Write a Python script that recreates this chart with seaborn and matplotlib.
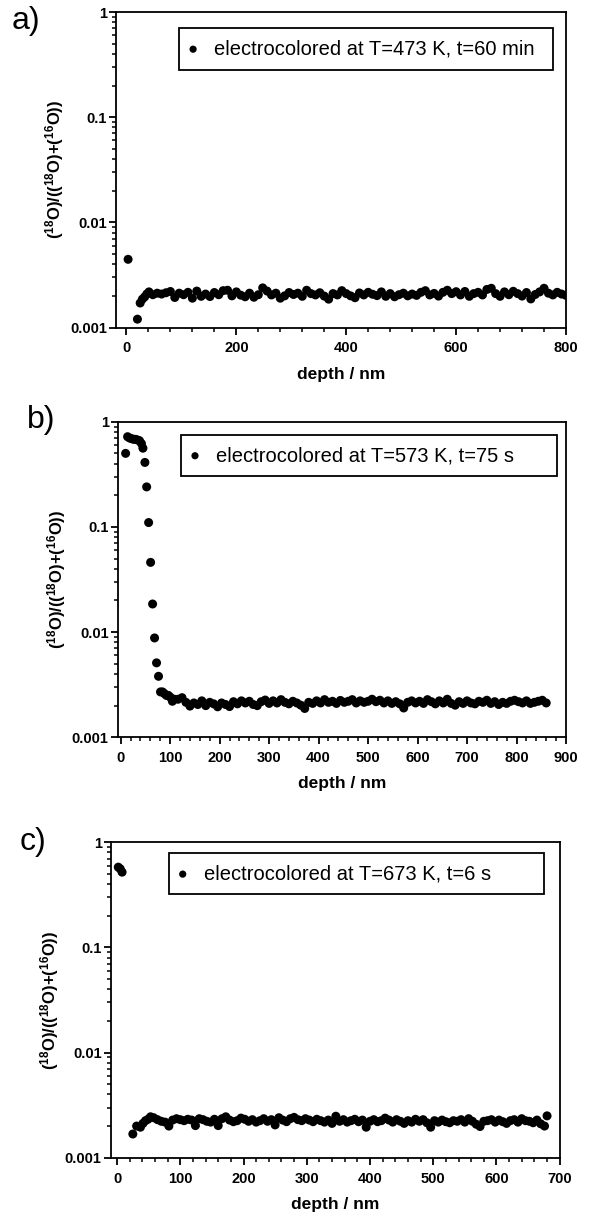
import matplotlib
matplotlib.use("Agg")
import matplotlib.pyplot as plt
import seaborn as sns
import pandas as pd
from matplotlib.ticker import (FixedLocator, FixedFormatter, MultipleLocator,
                               LogLocator, NullFormatter)

# ---------------- data ----------------
depth_a = [3, 20, 25, 29, 33, 37, 41,
           48, 56, 64, 72, 80, 88, 96, 104, 112, 120, 128, 136, 144, 152, 160, 168,
           176, 184, 192, 200, 208, 216, 224, 232, 240, 248, 256, 264, 272, 280, 288,
           296, 304, 312, 320, 328, 336, 344, 352, 360, 368, 376, 384, 392, 400, 408,
           416, 424, 432, 440, 448, 456, 464, 472, 480, 488, 496, 504, 512, 520, 528,
           536, 544, 552, 560, 568, 576, 584, 592, 600, 608, 616, 624, 632, 640, 648,
           656, 664, 672, 680, 688, 696, 704, 712, 720, 728, 736, 744, 752, 760, 768,
           776, 784, 792, 800]
ratio_a = [4.45e-3, 1.20e-3, 1.71e-3, 1.86e-3, 1.95e-3, 2.08e-3, 2.18e-3,
           2.05e-3, 2.12e-3, 2.08e-3, 2.14e-3, 2.20e-3, 1.93e-3, 2.12e-3, 2.05e-3, 2.16e-3,
           1.90e-3, 2.22e-3, 1.98e-3, 2.08e-3, 1.97e-3, 2.15e-3, 2.05e-3, 2.24e-3, 2.26e-3,
           2.00e-3, 2.18e-3, 2.03e-3, 1.96e-3, 2.12e-3, 1.94e-3, 2.05e-3, 2.38e-3, 2.22e-3,
           2.04e-3, 2.12e-3, 1.90e-3, 2.00e-3, 2.15e-3, 2.06e-3, 2.12e-3, 1.98e-3, 2.26e-3,
           2.10e-3, 2.04e-3, 2.14e-3, 1.99e-3, 1.86e-3, 2.10e-3, 2.04e-3, 2.24e-3, 2.10e-3,
           2.00e-3, 1.92e-3, 2.13e-3, 2.04e-3, 2.16e-3, 2.07e-3, 2.01e-3, 2.18e-3, 1.98e-3,
           2.10e-3, 1.96e-3, 2.05e-3, 2.12e-3, 2.00e-3, 2.08e-3, 2.02e-3, 2.16e-3, 2.24e-3,
           2.04e-3, 2.11e-3, 1.99e-3, 2.16e-3, 2.26e-3, 2.10e-3, 2.19e-3, 2.04e-3, 2.20e-3,
           1.98e-3, 2.10e-3, 2.16e-3, 2.04e-3, 2.30e-3, 2.36e-3, 2.10e-3, 1.98e-3, 2.18e-3,
           2.05e-3, 2.21e-3, 2.10e-3, 1.99e-3, 2.15e-3, 1.87e-3, 2.06e-3, 2.18e-3, 2.36e-3,
           2.12e-3, 2.04e-3, 2.16e-3, 2.08e-3, 2.02e-3]

depth_b = [10, 14, 18, 22, 26, 30, 34, 38, 42, 45, 49, 52.5, 56.5, 60.5, 64.5, 68.5,
           72.5, 76.5, 80.5, 84.5, 88.5, 92.5, 96.5, 100.5, 104.5, 108.5,
           116, 124, 132, 140, 148, 156, 164, 172, 180, 188, 196, 204, 212, 220, 228,
           236, 244, 252, 260, 268, 276, 284, 292, 300, 308, 316, 324, 332, 340, 348,
           356, 364, 372, 380, 388, 396, 404, 412, 420, 428, 436, 444, 452, 460, 468,
           476, 484, 492, 500, 508, 516, 524, 532, 540, 548, 556, 564, 572, 580, 588,
           596, 604, 612, 620, 628, 636, 644, 652, 660, 668, 676, 684, 692, 700, 708,
           716, 724, 732, 740, 748, 756, 764, 772, 780, 788, 796, 804, 812, 820, 828,
           836, 844, 852, 860]
ratio_b = [0.50, 0.72, 0.70, 0.69, 0.68, 0.68, 0.67, 0.66, 0.62, 0.56, 0.41, 0.24,
           0.11, 0.046, 0.0185, 0.0088, 0.0051, 0.0038, 0.0027, 0.0027, 0.0026, 0.0025,
           0.0025, 0.0024, 0.0022, 0.0023,
           2.30e-3, 2.38e-3, 2.15e-3, 1.98e-3, 2.12e-3, 2.05e-3, 2.22e-3, 2.00e-3, 2.15e-3,
           2.08e-3, 1.95e-3, 2.12e-3, 2.05e-3, 1.96e-3, 2.18e-3, 2.08e-3, 2.22e-3, 2.12e-3,
           2.20e-3, 2.05e-3, 2.00e-3, 2.18e-3, 2.26e-3, 2.10e-3, 2.22e-3, 2.12e-3, 2.28e-3,
           2.15e-3, 2.08e-3, 2.20e-3, 2.12e-3, 2.02e-3, 1.88e-3, 2.15e-3, 2.10e-3, 2.22e-3,
           2.12e-3, 2.28e-3, 2.15e-3, 2.20e-3, 2.10e-3, 2.24e-3, 2.15e-3, 2.20e-3, 2.28e-3,
           2.12e-3, 2.22e-3, 2.15e-3, 2.20e-3, 2.30e-3, 2.18e-3, 2.25e-3, 2.12e-3, 2.22e-3,
           2.10e-3, 2.18e-3, 2.08e-3, 1.90e-3, 2.15e-3, 2.22e-3, 2.12e-3, 2.20e-3, 2.10e-3,
           2.28e-3, 2.18e-3, 2.08e-3, 2.22e-3, 2.12e-3, 2.30e-3, 2.10e-3, 2.02e-3, 2.18e-3,
           2.10e-3, 2.22e-3, 2.12e-3, 2.08e-3, 2.20e-3, 2.15e-3, 2.25e-3, 2.10e-3, 2.18e-3,
           2.05e-3, 2.15e-3, 2.10e-3, 2.20e-3, 2.25e-3, 2.18e-3, 2.12e-3, 2.22e-3, 2.10e-3,
           2.15e-3, 2.20e-3, 2.25e-3, 2.12e-3]

depth_c = [2, 5, 8, 25, 31, 37, 41, 45, 49, 53,
           58, 64, 70, 76, 82, 88, 94, 100, 106, 112, 118, 124, 130, 136, 142, 148, 154,
           160, 166, 172, 178, 184, 190, 196, 202, 208, 214, 220, 226, 232, 238, 244, 250,
           256, 262, 268, 274, 280, 286, 292, 298, 304, 310, 316, 322, 328, 334, 340, 346,
           352, 358, 364, 370, 376, 382, 388, 394, 400, 406, 412, 418, 424, 430, 436, 442,
           448, 454, 460, 466, 472, 478, 484, 490, 496, 502, 508, 514, 520, 526, 532, 538,
           544, 550, 556, 562, 568, 574, 580, 586, 592, 598, 604, 610, 616, 622, 628, 634,
           640, 646, 652, 658, 664, 670, 676, 680]
ratio_c = [0.58, 0.56, 0.52, 1.68e-3, 2.00e-3, 1.95e-3, 2.12e-3, 2.25e-3, 2.32e-3, 2.45e-3,
           2.40e-3, 2.30e-3, 2.22e-3, 2.18e-3, 2.00e-3, 2.28e-3, 2.35e-3, 2.30e-3, 2.25e-3,
           2.32e-3, 2.28e-3, 2.02e-3, 2.35e-3, 2.30e-3, 2.22e-3, 2.18e-3, 2.32e-3, 2.02e-3,
           2.35e-3, 2.45e-3, 2.28e-3, 2.20e-3, 2.25e-3, 2.38e-3, 2.32e-3, 2.22e-3, 2.30e-3,
           2.18e-3, 2.25e-3, 2.35e-3, 2.22e-3, 2.30e-3, 2.05e-3, 2.40e-3, 2.28e-3, 2.20e-3,
           2.35e-3, 2.42e-3, 2.30e-3, 2.25e-3, 2.35e-3, 2.28e-3, 2.20e-3, 2.32e-3, 2.25e-3,
           2.18e-3, 2.28e-3, 2.12e-3, 2.48e-3, 2.22e-3, 2.30e-3, 2.18e-3, 2.25e-3, 2.32e-3,
           2.20e-3, 2.28e-3, 1.95e-3, 2.22e-3, 2.30e-3, 2.20e-3, 2.25e-3, 2.38e-3, 2.28e-3,
           2.18e-3, 2.30e-3, 2.22e-3, 2.12e-3, 2.25e-3, 2.18e-3, 2.32e-3, 2.22e-3, 2.30e-3,
           2.15e-3, 1.95e-3, 2.25e-3, 2.18e-3, 2.28e-3, 2.20e-3, 2.15e-3, 2.25e-3, 2.22e-3,
           2.30e-3, 2.18e-3, 2.35e-3, 2.22e-3, 2.08e-3, 1.98e-3, 2.22e-3, 2.25e-3, 2.30e-3,
           2.18e-3, 2.28e-3, 2.20e-3, 2.12e-3, 2.25e-3, 2.30e-3, 2.18e-3, 2.35e-3, 2.25e-3,
           2.22e-3, 2.15e-3, 2.28e-3, 2.10e-3, 2.00e-3, 2.50e-3]

legend_labels = ["electrocolored at T=473 K, t=60 min",
                 "electrocolored at T=573 K, t=75 s",
                 "electrocolored at T=673 K, t=6 s"]
panel_letters = ["a)", "b)", "c)"]
y_ticks = [0.001, 0.01, 0.1, 1]
y_tick_labels = ["0.001", "0.01", "0.1", "1"]
x_label = "depth / nm"
y_label = r"($^{18}$O)/(($^{18}$O)+($^{16}$O))"

# ---------------- style ----------------
sns.set_theme(style="ticks", rc={
    "axes.edgecolor": "black", "axes.linewidth": 1.2,
    "xtick.color": "black", "ytick.color": "black",
    "text.color": "black", "axes.labelcolor": "black",
})
plt.rcParams["font.family"] = ["Liberation Sans", "DejaVu Sans"]
plt.rcParams["mathtext.default"] = "regular"

W, H = 593, 1219
fig = plt.figure(figsize=(W / 100, H / 100), dpi=100)

# layout in pixels: left, right, top, bottom
rects = [(116, 566, 12, 327.5), (117.7, 566, 421.7, 737.3), (110.7, 559.7, 842.3, 1157.7)]
xlims = [(-19, 800), (-6, 900), (-10, 700)]
xmajor = [200, 100, 100]
xminor = [40, 20, 20]
leg_boxes = [(0.140, 0.972, 0.948), (0.141, 0.981, 0.958), (0.129, 0.966, 0.965)]
letter_pos = [(12, 6), (27, 405), (20, 827)]

datasets = [(depth_a, ratio_a), (depth_b, ratio_b), (depth_c, ratio_c)]

for i, (dx, dy) in enumerate(datasets):
    l, r, t, b = rects[i]
    ax = fig.add_axes([l / W, 1 - b / H, (r - l) / W, (b - t) / H])
    df = pd.DataFrame({"depth": dx, "ratio": dy})
    sns.scatterplot(data=df, x="depth", y="ratio", ax=ax, color="black", s=42,
                    edgecolor="none", linewidth=0, label=legend_labels[i], zorder=3)
    ax.set_yscale("log")
    ax.set_ylim(1e-3, 1)
    ax.set_xlim(*xlims[i])
    ax.yaxis.set_major_locator(FixedLocator(y_ticks))
    ax.yaxis.set_major_formatter(FixedFormatter(y_tick_labels))
    ax.yaxis.set_minor_locator(LogLocator(base=10, subs=range(2, 10), numticks=20))
    ax.yaxis.set_minor_formatter(NullFormatter())
    ax.xaxis.set_major_locator(MultipleLocator(xmajor[i]))
    ax.xaxis.set_minor_locator(MultipleLocator(xminor[i]))
    ax.tick_params(which="major", direction="out", length=5, width=1.3, labelsize=10.5)
    ax.tick_params(which="minor", direction="out", length=3, width=1.1)
    ax.tick_params(axis="x", which="major", pad=5)
    ax.tick_params(axis="y", which="major", pad=1.5)
    for lab in ax.get_xticklabels() + ax.get_yticklabels():
        lab.set_fontweight("bold")
    for sp in ax.spines.values():
        sp.set_visible(True)
        sp.set_linewidth(1.3)
        sp.set_color("black")
    ax.set_xlabel(x_label, fontsize=12.5, labelpad=8, fontweight="bold")
    ax.set_ylabel(y_label, fontsize=12, labelpad=3, fontweight="bold")

    x0, x1, ytop = leg_boxes[i]
    leg = ax.legend(loc="upper left", bbox_to_anchor=(x0, ytop - 0.2, x1 - x0, 0.2),
                    mode="expand", borderaxespad=0, frameon=True, fancybox=False,
                    edgecolor="black", framealpha=1, fontsize=14.5,
                    borderpad=0.55, handlelength=0.3, handletextpad=0.9,
                    markerscale=0.8)
    leg.get_frame().set_linewidth(1.3)

    lx, ly = letter_pos[i]
    fig.text(lx / W, 1 - ly / H, panel_letters[i], fontsize=23, va="top", ha="left")

fig.savefig("out.png", dpi=100)
